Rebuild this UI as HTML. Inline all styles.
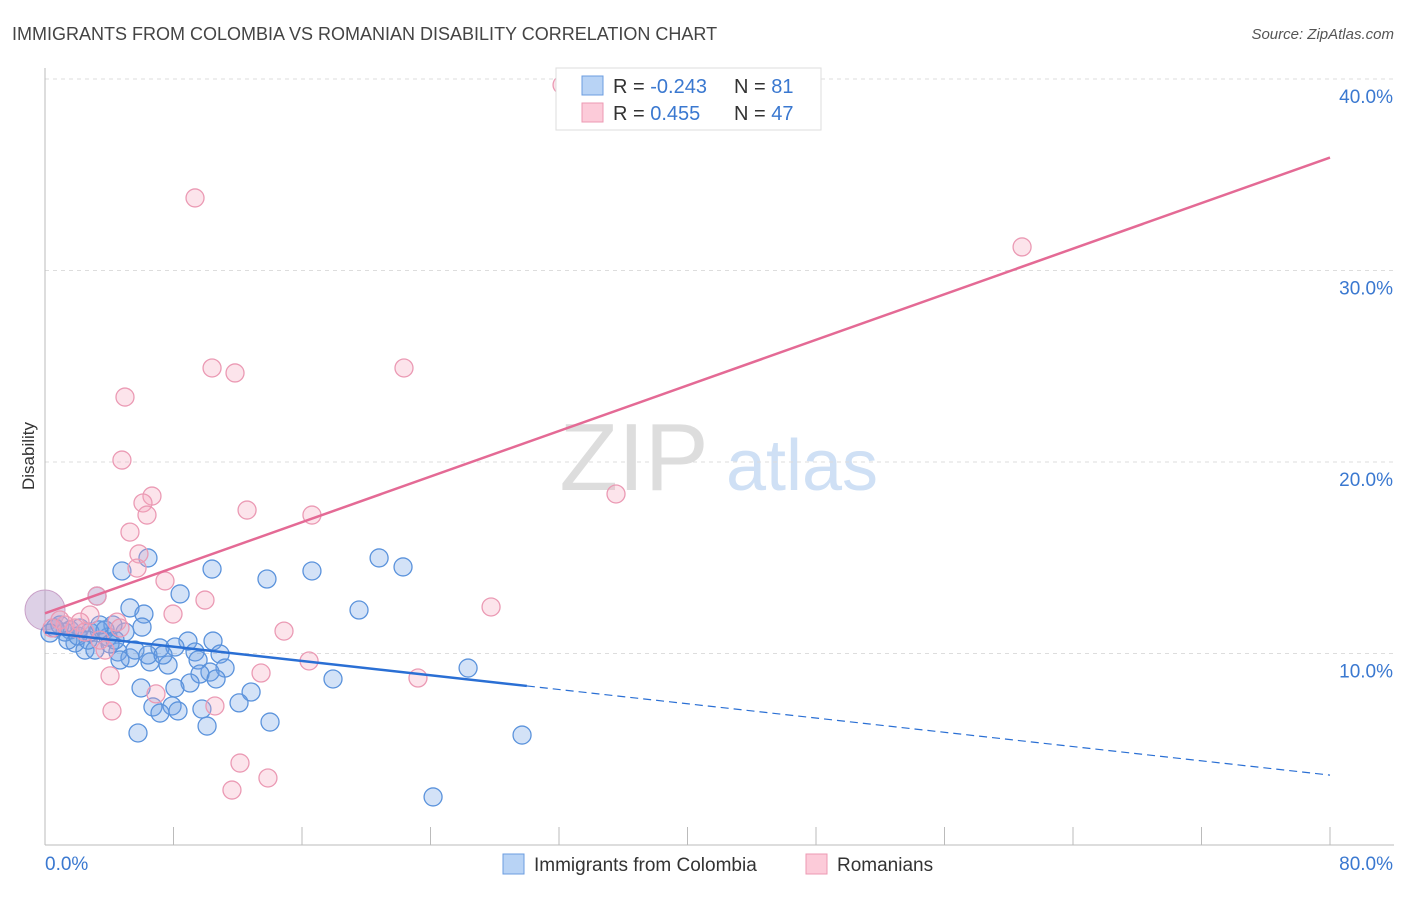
<!DOCTYPE html>
<html><head><meta charset="utf-8"><style>
body{margin:0;background:#fff;font-family:"Liberation Sans",sans-serif}
svg text{font-family:"Liberation Sans",sans-serif}
</style></head><body>
<svg id="chart" width="1406" height="892" xmlns="http://www.w3.org/2000/svg">
<text x="12" y="40" font-size="18" fill="#444">IMMIGRANTS FROM COLOMBIA VS ROMANIAN DISABILITY CORRELATION CHART</text>
<text x="1394" y="39" font-size="15" fill="#555" text-anchor="end" font-style="italic">Source: ZipAtlas.com</text>
<text transform="translate(34,456) rotate(-90)" font-size="17" fill="#333" text-anchor="middle">Disability</text>
<g>
<text x="634" y="490" font-size="96" fill="#ddd" text-anchor="middle" font-family="Liberation Serif,serif">ZIP</text>
<text x="802" y="490" font-size="72" fill="#cfe0f5" text-anchor="middle">atlas</text>
</g>
<g id="grid"></g><g id="axes"></g><g id="marks"></g><g id="lines"></g>
<g>
<rect x="556" y="68" width="265" height="62" fill="#fff" stroke="#ddd"/>
<rect x="582" y="76" width="21" height="19" fill="#b8d3f5" stroke="#6b9de0"/>
<rect x="582" y="103" width="21" height="19" fill="#fccbd9" stroke="#ec9ab3"/>
<text x="613" y="93" font-size="20" fill="#333">R = <tspan fill="#3a78d0">-0.243</tspan></text>
<text x="734" y="93" font-size="20" fill="#333">N = <tspan fill="#3a78d0"> 81</tspan></text>
<text x="613" y="120" font-size="20" fill="#333">R = <tspan fill="#3a78d0">  0.455</tspan></text>
<text x="734" y="120" font-size="20" fill="#333">N = <tspan fill="#3a78d0">47</tspan></text>
</g>
<g>
<rect x="503" y="854" width="21" height="20" fill="#b8d3f5" stroke="#6b9de0"/>
<text x="534" y="871" font-size="19" fill="#333">Immigrants from Colombia</text>
<rect x="806" y="854" width="21" height="20" fill="#fccbd9" stroke="#ec9ab3"/>
<text x="837" y="871" font-size="19" fill="#333">Romanians</text>
</g>
</svg>
<script>
const yTicks=[10,20,30,40];
const yTickLabels=["10.0%","20.0%","30.0%","40.0%"];
const xTickVals=[0,8,16,24,32,40,48,56,64,72,80];
const blueX=[4.79,6.41,10.40,13.82,16.62,20.80,22.29,3.24,8.41,5.29,6.16,19.55,6.04,8.90,10.46,8.09,7.16,9.34,10.90,3.92,4.98,4.23,3.36,0.93,1.56,2.18,2.80,3.74,1.87,2.49,3.11,4.54,5.29,6.54,7.66,9.53,11.21,10.27,9.65,10.65,9.03,8.09,5.98,12.83,12.08,6.72,7.91,7.16,8.28,9.77,10.09,14.01,5.79,17.93,26.34,29.70,24.16,1.25,0.62,0.31,1.43,2.05,2.68,4.05,4.36,3.42,4.67,5.60,6.41,7.35];
const blueY=[14.31,14.99,14.41,13.89,14.31,14.99,14.52,13.00,13.11,12.38,12.06,12.27,11.38,10.65,10.65,10.34,10.29,10.08,9.97,10.86,11.12,11.49,11.23,11.49,11.23,11.33,11.12,11.23,10.55,10.18,10.18,10.08,9.77,9.56,9.40,9.66,9.24,9.03,8.93,8.67,8.46,8.20,8.20,7.99,7.42,7.21,7.26,6.89,7.00,7.10,6.21,6.42,5.85,8.67,9.24,5.74,2.51,11.12,11.33,11.07,10.70,10.91,10.70,10.50,10.70,11.49,9.66,10.18,9.92,9.92];
const pinkX=[32.19,9.34,60.83,10.40,11.83,22.35,4.98,4.79,35.55,6.66,6.10,6.35,12.58,16.62,5.29,5.85,5.73,7.47,3.24,9.96,7.97,27.77,14.88,2.80,2.18,1.25,1.87,4.48,3.74,16.44,13.45,4.05,23.22,10.58,4.17,6.91,12.14,13.88,11.64,0.93,0.44,2.49,3.42,4.67];
const pinkY=[39.69,33.79,31.23,24.91,24.65,24.91,23.39,20.10,18.33,18.22,17.86,17.23,17.49,17.23,16.34,15.20,14.46,13.79,13.00,12.79,12.06,12.43,11.17,12.01,11.64,11.49,11.33,11.64,10.18,9.61,8.98,8.83,8.72,7.26,7.00,7.89,4.28,3.50,2.87,11.75,11.33,11.12,10.70,11.33];
const blueTrend=[11.1,3.65]; // y at x=0 and x=80
const blueSolidEnd=30;
const pinkTrend=[12.1,35.9];
const pinkEnd=80;
const NS="http://www.w3.org/2000/svg";
const X=v=>45+v*(1285/80);
const Y=v=>845-v*19.15;
function mk(t,a,p){const e=document.createElementNS(NS,t);for(const k in a)e.setAttribute(k,a[k]);p.appendChild(e);return e;}
const grid=document.getElementById('grid'),axes=document.getElementById('axes'),marks=document.getElementById('marks'),lines=document.getElementById('lines');
yTicks.forEach((t,i)=>{
 const l=mk('line',{x1:45,x2:1394,y1:Y(t),y2:Y(t),stroke:'#ddd','stroke-dasharray':'4 4'},grid);
 
 
 const tx=mk('text',{x:1393,y:Y(t)+24,'font-size':19,fill:'#3a78d0','text-anchor':'end'},axes);
 tx.textContent=yTickLabels[i];
 
 
});
const al=mk('line',{x1:45,x2:45,y1:68,y2:845,stroke:'#bbb'},axes);


const bl=mk('line',{x1:45,x2:1394,y1:845,y2:845,stroke:'#bbb'},axes);


xTickVals.forEach(t=>{
 const l=mk('line',{x1:X(t),x2:X(t),y1:827,y2:845,stroke:'#bbb'},axes);
 
 
});
const x0=mk('text',{x:45,y:870,'font-size':19,fill:'#3a78d0'},axes);x0.textContent='0.0%';


const x1=mk('text',{x:1393,y:870,'font-size':19,fill:'#3a78d0','text-anchor':'end'},axes);x1.textContent='80.0%';


const big=mk('circle',{cx:X(0),cy:Y(12.27),r:20,fill:'rgba(180,150,200,0.45)',stroke:'#c9a0c8'},marks);


blueX.forEach((v,i)=>{
 const c=mk('circle',{cx:X(v),cy:Y(blueY[i]),r:9,fill:'rgba(110,160,230,0.3)',stroke:'#5b93dc','stroke-width':1.3},marks);
 
 
});
pinkX.forEach((v,i)=>{
 const c=mk('circle',{cx:X(v),cy:Y(pinkY[i]),r:9,fill:'rgba(245,165,190,0.3)',stroke:'#eb9ab4','stroke-width':1.3},marks);
 
 
});
const bAt=x=>blueTrend[0]+(blueTrend[1]-blueTrend[0])*x/80;
const pAt=x=>pinkTrend[0]+(pinkTrend[1]-pinkTrend[0])*x/80;
let t=mk('line',{x1:X(0),y1:Y(bAt(0)),x2:X(blueSolidEnd),y2:Y(bAt(blueSolidEnd)),stroke:'#2a6fd4','stroke-width':2.5},lines);


t=mk('line',{x1:X(blueSolidEnd),y1:Y(bAt(blueSolidEnd)),x2:X(80),y2:Y(bAt(80)),stroke:'#2a6fd4','stroke-width':1.2,'stroke-dasharray':'8 5'},lines);


t=mk('line',{x1:X(0),y1:Y(pAt(0)),x2:X(pinkEnd),y2:Y(pAt(pinkEnd)),stroke:'#e46a95','stroke-width':2.5},lines);


</script>
</body></html>
